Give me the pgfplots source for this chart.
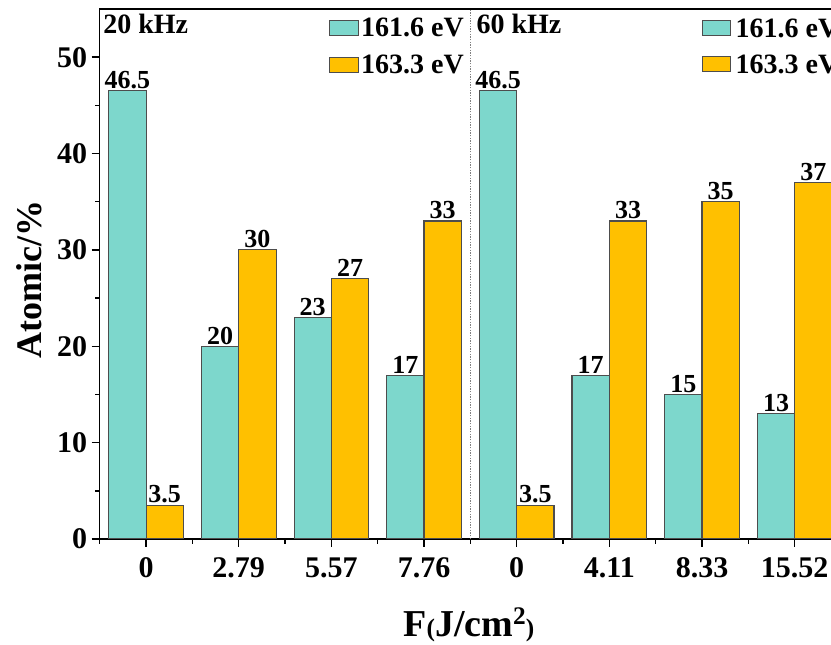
\documentclass[border=0pt]{standalone}
\usepackage{fontspec}
\setmainfont{Liberation Serif}
\usepackage{pgfplots}
\pgfplotsset{compat=1.18}
\definecolor{cyanbar}{HTML}{7DD7CC}
\definecolor{orbar}{HTML}{FFC000}
\definecolor{edge}{HTML}{4D4D4D}
\begin{document}
\begin{tikzpicture}
\begin{axis}[
  scale only axis, width=556pt, height=397.5pt,
  xmin=-0.5, xmax=7.5, ymin=0, ymax=55,
  ybar=0pt, bar width=28pt,
  xtick={0,...,7}, xticklabels={0,2.79,5.57,7.76,0,4.11,8.33,15.52},
  minor xtick={-0.5,0.5,...,7.5},
  ytick={0,10,...,50}, minor ytick={5,15,...,45},
  xtick pos=left, ytick pos=left,
  tick align=outside,
  major tick length=6pt, minor tick length=3.5pt,
  tick style={line width=1.1pt, black},
  axis line style={line width=1.1pt},
  /pgf/number format/assume math mode=true,
  ticklabel style={font=\bfseries\fontsize{22.5}{23}\selectfont},
  xticklabel shift=4.5pt,
  nodes near coords,
  nodes near coords style={font=\bfseries\fontsize{19.5}{20}\selectfont, inner sep=1pt},
  ylabel={Atomic/\%},
  ylabel style={font=\bfseries\fontsize{27}{28}\selectfont, at={(axis description cs:-0.0944,0.49)}, anchor=center, rotate=0},
  xlabel={F{\fontsize{19}{19}\selectfont(}J/cm\raisebox{9pt}{\fontsize{19}{19}\selectfont 2}{\fontsize{19}{19}\selectfont)}},
  xlabel style={font=\bfseries\fontsize{28.5}{29}\selectfont, at={(axis description cs:0.498,-0.185)}, anchor=base},
  legend style={draw=none, fill=none, inner sep=0pt, at={(axis description cs:0.309,0.987)}, anchor=north west,
    font=\bfseries\fontsize{21}{22}\selectfont, row sep=9pt, nodes={inner sep=1.5pt}},
  legend image code/.code={\draw[#1] (0pt,-5.6pt) rectangle (21.75pt,5.6pt);},
  legend cell align=left,
]
\addplot[fill=cyanbar, draw=edge, line width=0.8pt] coordinates {(0,46.5) (1,20) (2,23) (3,17) (4,46.5) (5,17) (6,15) (7,13)};
\addplot[fill=orbar, draw=edge, line width=0.8pt] coordinates {(0,3.5) (1,30) (2,27) (3,33) (4,3.5) (5,33) (6,35) (7,37)};
\legend{161.6 eV, 163.3 eV}
\draw[densely dotted, gray, line width=1pt] (axis cs:3.5,0) -- (axis cs:3.5,55);
\node[anchor=base west, font=\bfseries\fontsize{21}{22}\selectfont, inner sep=0pt] at (axis cs:-0.464,52.5) {20 kHz};
\node[anchor=base west, font=\bfseries\fontsize{21}{22}\selectfont, inner sep=0pt] at (axis cs:3.564,52.5) {60 kHz};
\draw[fill=cyanbar, draw=edge, line width=0.8pt] (axis cs:6.004,52.25) rectangle (axis cs:6.307,53.8);
\draw[fill=orbar, draw=edge, line width=0.8pt] (axis cs:6.004,48.5) rectangle (axis cs:6.307,50.05);
\node[anchor=west, font=\bfseries\fontsize{21}{22}\selectfont, inner sep=0pt] at (axis cs:6.36,53.03) {161.6 eV};
\node[anchor=west, font=\bfseries\fontsize{21}{22}\selectfont, inner sep=0pt] at (axis cs:6.36,49.29) {163.3 eV};
\coordinate (A) at (rel axis cs:0,0);
\coordinate (B) at (rel axis cs:0,1);
\end{axis}
\pgfresetboundingbox
\path[use as bounding box] ([xshift=-74.8pt,yshift=-79.5pt]A) rectangle ([xshift=548.5pt,yshift=6.75pt]B);
\end{tikzpicture}
\end{document}
